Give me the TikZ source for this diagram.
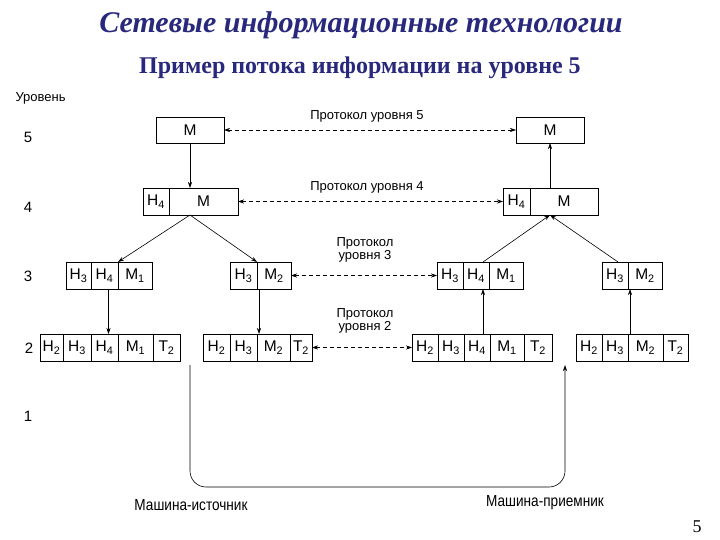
\documentclass[tikz,border=0pt]{standalone}
\usepackage{fontspec}
\setmainfont{Liberation Sans}
\newfontfamily\titlefont{Liberation Serif}
\newfontfamily\narrowfont[FakeStretch=0.85]{Liberation Sans}
\usetikzlibrary{arrows.meta,calc}
\definecolor{titleblue}{RGB}{40,40,125}
\newcommand\cellbox[6]{%
  \node[cellst, minimum width={(#3-#2)*1pt}, minimum height={(#5-#4)*1pt}]
    (#1) at ({(#2+#3)/2},{(#4+#5)/2}) {#6};}
\newcommand\sub[1]{\textsubscript{#1}}
\begin{document}
\begin{tikzpicture}[x=1pt,y=-1pt,
  cellst/.style={draw, line width=0.6pt, inner sep=0pt, outer sep=0pt, font=\fontsize{15.5}{16}\selectfont},
  arr/.style={line width=0.6pt, -{Stealth[length=6pt,width=4pt]}},
  proto/.style={line width=0.6pt, dash pattern=on 4pt off 3pt, {Stealth[length=6pt,width=4pt]}-{Stealth[length=6pt,width=4pt]}},
  plabel/.style={font=\fontsize{13}{13}\selectfont, align=center},
  lvl/.style={font=\fontsize{15}{15}\selectfont},
  mlabel/.style={font=\narrowfont\fontsize{16}{16}\selectfont}]
\useasboundingbox (0,0) rectangle (720,540);
% titles
\node[text=titleblue, font=\titlefont\fontsize{30}{32}\selectfont\bfseries\itshape] (title) at (361,25) {Сетевые информационные технологии};
\node[text=titleblue, font=\titlefont\fontsize{24}{26}\selectfont\bfseries] (subtitle) at (360,68) {Пример потока информации на уровне 5};
% level labels
\node[font=\fontsize{13}{13}\selectfont, anchor=west] (ulab) at (12,98) {Уровень};
\node[lvl] (n5) at (28,137) {5};
\node[lvl] (n4) at (28,207) {4};
\node[lvl] (n3) at (28,276) {3};
\node[lvl] (n2) at (29,348) {2};
\node[lvl] (n1) at (28,416) {1};
% level 5
\cellbox{L5}{156}{224}{117}{143}{M}
\cellbox{R5}{516}{584}{117}{143}{M}
% level 4
\cellbox{L4a}{143}{169}{188}{215}{H\sub{4}}
\cellbox{L4b}{169}{238}{188}{215}{M}
\cellbox{R4a}{503}{530}{188}{215}{H\sub{4}}
\cellbox{R4b}{530}{598}{188}{215}{M}
% level 3
\cellbox{A3a}{66}{91}{262}{289}{H\sub{3}}
\cellbox{A3b}{91}{118}{262}{289}{H\sub{4}}
\cellbox{A3c}{118}{152}{262}{289}{M\sub{1}}
\cellbox{B3a}{230}{257}{262}{289}{H\sub{3}}
\cellbox{B3b}{257}{291}{262}{289}{M\sub{2}}
\cellbox{C3a}{437}{463}{262}{289}{H\sub{3}}
\cellbox{C3b}{463}{489}{262}{289}{H\sub{4}}
\cellbox{C3c}{489}{523}{262}{289}{M\sub{1}}
\cellbox{D3a}{602}{628}{262}{289}{H\sub{3}}
\cellbox{D3b}{628}{662}{262}{289}{M\sub{2}}
% level 2
\cellbox{A2a}{40}{63}{334}{361}{H\sub{2}}
\cellbox{A2b}{63}{91}{334}{361}{H\sub{3}}
\cellbox{A2c}{91}{118}{334}{361}{H\sub{4}}
\cellbox{A2d}{118}{153}{334}{361}{M\sub{1}}
\cellbox{A2e}{153}{180}{334}{361}{T\sub{2}}
\cellbox{B2a}{203}{230}{334}{361}{H\sub{2}}
\cellbox{B2b}{230}{257}{334}{361}{H\sub{3}}
\cellbox{B2c}{257}{290}{334}{361}{M\sub{2}}
\cellbox{B2d}{290}{312}{334}{361}{T\sub{2}}
\cellbox{C2a}{412}{438}{334}{361}{H\sub{2}}
\cellbox{C2b}{438}{464}{334}{361}{H\sub{3}}
\cellbox{C2c}{464}{490}{334}{361}{H\sub{4}}
\cellbox{C2d}{490}{524}{334}{361}{M\sub{1}}
\cellbox{C2e}{524}{552}{334}{361}{T\sub{2}}
\cellbox{D2a}{576}{602}{334}{361}{H\sub{2}}
\cellbox{D2b}{602}{628}{334}{361}{H\sub{3}}
\cellbox{D2c}{628}{663}{334}{361}{M\sub{2}}
\cellbox{D2d}{663}{688}{334}{361}{T\sub{2}}
% protocol lines
\draw[proto] (L5.east) -- (R5.west);
\node[plabel] (p5) at (367,116) {Протокол уровня 5};
\draw[proto] (L4b.east) -- (R4a.west);
\node[plabel] (p4) at (367,187) {Протокол уровня 4};
\draw[proto] (B3b.east) -- (C3a.west);
\node[plabel] (p3) at (365,250) {Протокол\\ уровня 3};
\draw[proto] (B2d.east) -- (C2a.west);
\node[plabel] (p2) at (365,321) {Протокол\\ уровня 2};
% vertical flow, sender
\draw[arr] (L5.south) -- (L5.south |- L4b.north);
\coordinate (lapex) at (L5.south |- L4b.south);
\draw[arr] (lapex) -- (A3b.north east);
\draw[arr] (lapex) -- (B3b.north west);
\draw[arr] ([xshift=4pt]A3b.south) -- ([xshift=4pt]A2c.north);
\draw[arr] ([xshift=2pt]B3b.south west) -- ([xshift=2pt]B2c.north west);
% receiver
\coordinate (rapex) at (R5.south |- R4b.south);
\draw[arr] (R5.south |- R4b.north) -- (R5.south);
\draw[arr] ([xshift=-6pt]C3c.north west) -- (rapex);
\draw[arr] ([xshift=3pt]D3a.north) -- (rapex);
\draw[arr] ([xshift=6pt]C2c.north) -- ([xshift=6pt]C2c.north |- C3b.south);
\draw[arr] ([xshift=2pt]D2c.north west) -- ([xshift=2pt]D2c.north west |- D3b.south);
% physical link
\coordinate (src) at (190,365);
\coordinate (dst) at (565,365);
\draw[arr, rounded corners=16pt] (src) -- (190,487) -- (565,487) -- (dst);
\node[mlabel] (ms) at (191,505) {Машина-источник};
\node[mlabel] (mr) at (545,503) {Машина-приемник};
% page number
\node[font=\titlefont\fontsize{18}{18}\selectfont] (pg) at (697,527) {5};
\end{tikzpicture}
\end{document}
